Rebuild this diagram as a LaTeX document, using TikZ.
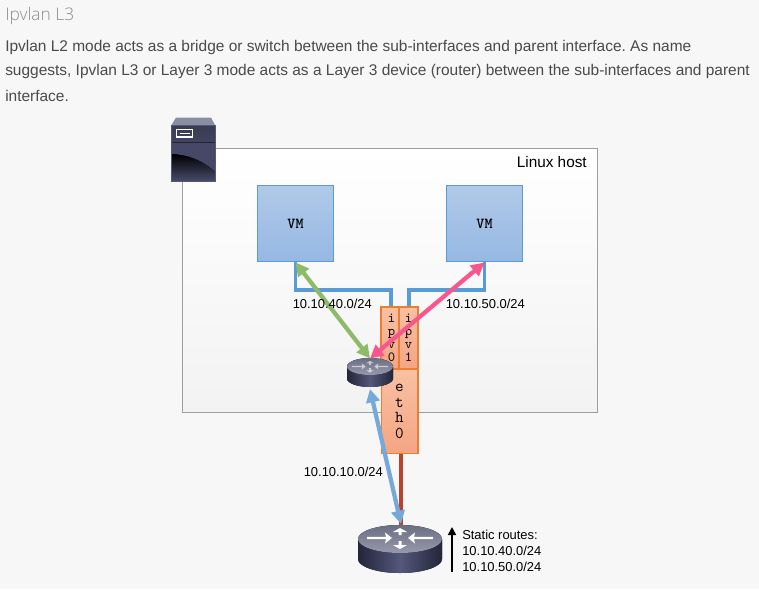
\documentclass[tikz,border=0pt]{standalone}
\usepackage{fontspec}
\setmainfont{Liberation Sans}
\newfontfamily\headfont{Open Sans Light}
\usetikzlibrary{arrows.meta,calc}
\frenchspacing
\definecolor{pagebg}{HTML}{F7F7F7}
\definecolor{bodytxt}{HTML}{4A4A4A}
\definecolor{vmline}{HTML}{5B9BD5}
\definecolor{vmtop}{HTML}{B0C9E8}
\definecolor{vmbot}{HTML}{95B8E3}
\definecolor{ifline}{HTML}{ED7D31}
\definecolor{iftop}{HTML}{F9C0A3}
\definecolor{ifbot}{HTML}{F4A582}
\definecolor{grn}{HTML}{8DBB6A}
\definecolor{pnk}{HTML}{F8568C}
\definecolor{lblu}{HTML}{74A9DA}
\definecolor{redl}{HTML}{B8432A}
\definecolor{rdark}{HTML}{23253A}
\definecolor{rmid}{HTML}{54587A}
\definecolor{rtop}{HTML}{8A8EA3}
\tikzset{
  x=0.75pt,y=-0.75pt,
  body/.style={anchor=west,inner sep=0,font=\fontsize{11.6pt}{14pt}\selectfont,text=bodytxt},
  lbl/.style={inner sep=0,font=\fontsize{9.7pt}{12pt}\selectfont,text=black},
  vmbox/.style={draw=vmline,line width=0.9pt,top color=vmtop,bottom color=vmbot,minimum width=56.5pt,minimum height=57.5pt,inner sep=0,font=\ttfamily\bfseries\fontsize{11.5pt}{11.5pt}\selectfont},
  ifbox/.style={draw=ifline,line width=0.8pt,top color=iftop,bottom color=ifbot,inner sep=0,align=center,font=\ttfamily\fontsize{10.5pt}{9.8pt}\selectfont},
  link/.style={draw=vmline,line width=2.4pt},
  dbl/.style={line width=3.2pt,{Triangle[length=10pt,width=10pt]}-{Triangle[length=10pt,width=10pt]}},
}
\newcommand{\routerbody}[5]{% cx, topcy, rx, ry, h
  \fill[left color=rdark,right color=rdark,middle color=rmid]
    (#1-#3,#2) arc[start angle=180,end angle=360,x radius=#3*0.75pt,y radius=#4*0.75pt]
    -- ++(0,#5) arc[start angle=360,end angle=180,x radius=#3*0.75pt,y radius=#4*0.75pt] -- cycle;
  \fill[top color=rtop!70!rdark,bottom color=rtop!90!white] (#1,#2) ellipse[x radius=#3*0.75pt,y radius=#4*0.75pt];
}
\newcommand{\routerarrows}{%
  \fill (0,-11) -- (7,-7) -- (1.5,-7) -- (1.5,-4) -- (-1.5,-4) -- (-1.5,-7) -- (-7,-7) -- cycle;
  \fill (0,10) -- (7,6) -- (1.5,6) -- (1.5,2) -- (-1.5,2) -- (-1.5,6) -- (-7,6) -- cycle;
  \fill (-8,-1) -- (-15,-6.5) -- (-14,-2.2) -- (-33,-2.2) -- (-33,0.2) -- (-14,0.2) -- (-15,4.5) -- cycle;
  \fill (8,-1) -- (15,-6.5) -- (14,-2.2) -- (33,-2.2) -- (33,0.2) -- (14,0.2) -- (15,4.5) -- cycle;
}
\newcommand{\nudge}{\hspace*{2.4pt}}
\begin{document}
\begin{tikzpicture}
\useasboundingbox (0,0) rectangle (759,589);
\fill[pagebg] (0,0) rectangle (759,589);
\node[anchor=west,inner sep=0,text=gray!90,font=\headfont\fontsize{13pt}{15pt}\selectfont] (title) at (5,16) {Ipvlan L3};
\node[body] (t1) at (5,47.5) {Ipvlan L2 mode acts as a bridge or switch between the sub-interfaces and parent interface. As name};
\node[body] (t2) at (5,71.5) {suggests, Ipvlan L3 or Layer 3 mode acts as a Layer 3 device (router) between the sub-interfaces and parent};
\node[body] (t3) at (5,95.5) {interface.};

% host
\node[draw=black!38,line width=0.8pt,top color=white,bottom color=black!5,minimum width=311.5pt,minimum height=198pt,inner sep=0,anchor=north west] (host) at (182,148) {};
\node[lbl,anchor=east,font=\fontsize{11.5pt}{13pt}\selectfont] (hostlbl) at (587,162.5) {Linux host};

% server icon
\fill[rtop] (171.5,125) -- (176,117.5) -- (211,117.5) -- (215,125) -- cycle;
\fill[top color=rdark!90!white,bottom color=rmid!60!rdark] (171.5,125) rectangle (215,141.5);
\fill[black!85] (171.5,141.5) rectangle (215,143);
\begin{scope}
\clip (171.5,143) rectangle (215,181);
\fill[rmid!70!rdark] (171.5,143) rectangle (215,181);
\fill[top color=black,bottom color=rmid!75!rdark] (171.5,154) .. controls (190,155) and (205,162) .. (215,172) -- (215,181) -- (171.5,181) -- cycle;
\end{scope}
\draw[rmid,line width=0.6pt] (171.5,125) rectangle (215,181);
\draw[white,line width=0.8pt] (176.5,129.5) rectangle (192.5,137);
\draw[white,line width=0.8pt] (179.5,133.5) -- (189.5,133.5);

% VMs
\node[vmbox] (vm1) at (295.5,223.5) {VM};
\node[vmbox] (vm2) at (484.5,223.5) {VM};

% interfaces
\node[ifbox,minimum width=13.5pt,minimum height=46.5pt] (ipv0) at (390,338) {\nudge i\\\nudge p\\\nudge v\\\nudge 0};
\node[ifbox,minimum width=14.2pt,minimum height=46.5pt] (ipv1) at (408.5,338) {i\\p\\v\\1};
\node[ifbox,minimum width=27.7pt,minimum height=63pt,font=\ttfamily\fontsize{12.5pt}{11.8pt}\selectfont] (eth0) at (399.5,411.5) {e\\t\\h\\0};

% links
\coordinate (bend1) at (295.5,290);
\coordinate (bend1b) at (391,290);
\coordinate (bend2) at (484.5,290);
\coordinate (bend2b) at (409,290);
\draw[link] (vm1.south) -- (bend1) -- (bend1b) -- (bend1b |- ipv0.north);
\draw[link] (vm2.south) -- (bend2) -- (bend2b) -- (bend2b |- ipv1.north);
\draw[redl,line width=2.5pt] (eth0.south -| 401,0) -- (401,526);

% small router
\routerbody{370}{366.5}{23}{8.5}{12}
\begin{scope}[shift={(370,367)},scale=0.55,white,opacity=.6]
\routerarrows
\end{scope}
\coordinate (rsm) at (370,358.5);
\coordinate (rsmb) at (370,389);

% large router
\routerbody{400}{539}{42}{14}{20}
\begin{scope}[shift={(400,539)},white]
\routerarrows
\end{scope}
\coordinate (rlg) at (401,524);

% arrows
\draw[dbl,grn] (vm1.south) -- (rsm);
\draw[dbl,pnk] (vm2.south) -- (rsm);
\draw[dbl,lblu] (rsmb) -- (rlg);

% static routes
\coordinate (sa) at (452,572);
\coordinate (sb) at (452,527);
\draw[black,line width=1.2pt,-{Triangle[length=6pt,width=6pt]}] (sa) -- (sb);
\node[lbl,anchor=west,align=left] (routes) at (462,550.5) {Static routes:\\10.10.40.0/24\\10.10.50.0/24};

% labels
\node[lbl,anchor=west] (l40) at (292.5,304) {10.10.40.0/24};
\node[lbl,anchor=west] (l50) at (445.5,304) {10.10.50.0/24};
\node[lbl,anchor=west] (l10) at (303.5,472) {10.10.10.0/24};
\end{tikzpicture}
\end{document}
